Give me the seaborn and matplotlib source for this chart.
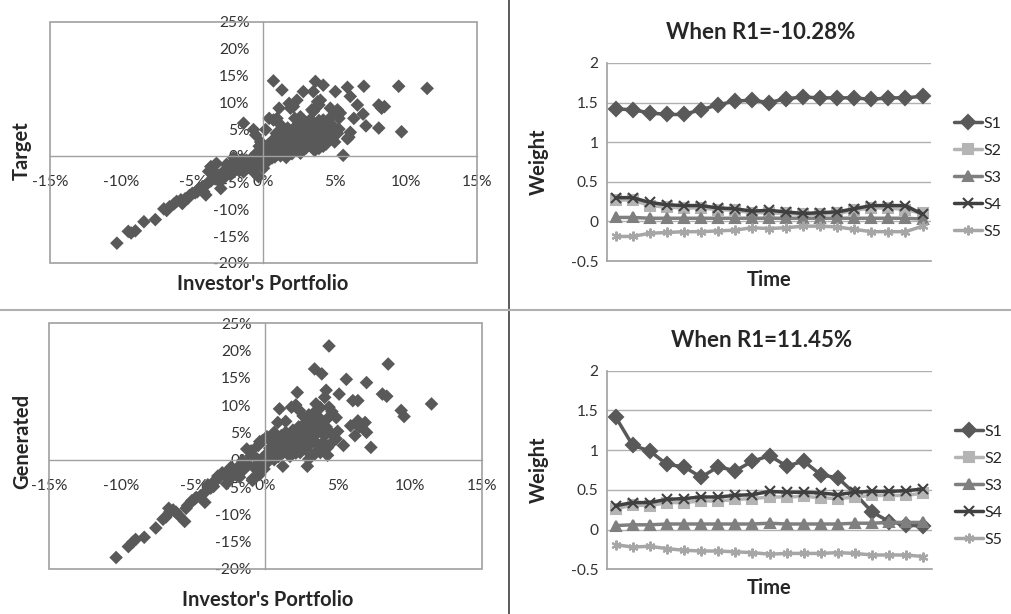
import numpy as np
import pandas as pd
import matplotlib
matplotlib.use("Agg")
import matplotlib.pyplot as plt
import matplotlib.ticker as mticker
from matplotlib.patches import Rectangle
from matplotlib.lines import Line2D
import seaborn as sns

# scatter data, in percent (Investor's Portfolio vs Target / Generated)
target_x = [-10.3, -9.5, -9.3, -9.0, -8.4, -7.6, -7.0, -6.8, -6.6, -6.3, -6.1, -5.8, -5.7, -5.5, -5.3,
            -5.2, -5.0, -4.8, -4.65, -4.5, -4.4, -4.2, -4.05, -4.1, -3.9, -3.85, -3.7, -3.7, -3.5, -3.4,
            -3.4, -3.3, -3.2, -3.1, -3.0, -2.9, -2.7, -2.55, -2.4, -2.3, -2.1, -2.1, -2.0, -1.8, -1.7,
            -1.6, -1.4, -1.3, -1.2, -1.1, -0.9, -0.8, -0.7, -0.6, -0.5, -0.35, -0.3, -0.2, 0.0, -0.1,
            0.1, 0.2, 0.3, 0.4, 0.5, 0.6, 0.7, 0.8, 0.9, 1.0, 1.1, 1.2, 1.3, 1.4, 1.5,
            1.6, 1.7, 1.8, 1.9, 2.0, 2.1, 2.2, 2.3, 2.4, 2.5, 2.6, 2.7, 2.8, 2.9, 3.0,
            3.1, 3.2, 3.3, 3.4, 3.5, 3.6, 3.7, 3.8, 3.9, 4.0, 4.2, 4.3, 4.5, 4.6, 4.8,
            5.0, 5.3, 0.7, 1.3, 2.8, 3.65, 4.2, 5.05, 5.9, 7.05, 9.5, 11.5, 3.5, 2.35, 3.8,
            3.9, 4.7, 5.2, 5.4, 6.1, 6.6, 8.1, 8.5, 8.3, 7.0, 6.35, 7.2, 8.1, 9.7, 6.1,
            5.9, 5.6, 1.1, 1.8, 2.1, 2.6, 3.5, 4.2, 4.9, 5.2, 3.1, 3.8, 3.9, 0.7, 0.15,
            -0.7, -1.4, -0.55, -0.2, 0.95, 0.4, 2.2, 2.5, 1.9, 4.8, 5.3, 4.0, 3.4, 3.3, 4.0,
            4.3, 3.7, 5.0, 6.0, 0.3, 0.6, 1.0, 1.4, 0.5, 1.2, 1.6, 2.0, 2.6, 0.0, -0.5,
            -1.0, -1.5, 0.8, 1.7, 2.3, 2.8, 1.2, 0.9, -0.3, 2.4, 3.4, 3.0, 1.9, 1.5, 2.6,
            4.4, 4.1, 3.6, -2.6, -1.9, -2.8, -2.2, -1.4]
target_y = [-16.3, -14.1, -14.4, -14.0, -12.3, -11.9, -9.9, -10.2, -9.5, -9.0, -8.5, -8.2, -8.9, -8.0, -7.9,
            -7.4, -7.0, -6.9, -6.7, -6.0, -6.1, -6.7, -7.3, -5.6, -5.0, -2.9, -2.0, -4.7, -3.9, -4.3,
            -1.7, -1.4, -3.6, -4.8, -6.1, -3.8, -2.6, -3.3, -2.2, -3.5, -3.0, -0.3, -2.5, -1.6, -2.8,
            -2.1, -1.9, -1.2, -0.8, -2.2, -0.6, -1.5, -3.0, -0.9, -1.9, -3.9, -0.4, -1.2, -2.3, 0.3,
            -0.5, 0.6, -1.0, 1.2, 0.2, -0.4, 1.6, 0.8, 2.2, 0.3, 1.4, 2.8, 0.9, 2.0, 3.5,
            1.2, 2.6, 0.6, 3.2, 1.7, 4.1, 2.4, 1.0, 3.0, 4.6, 1.9, 3.7, 2.6, 5.3, 1.5,
            3.3, 4.4, 2.2, 5.8, 3.0, 1.0, 4.0, 2.6, 6.6, 3.6, 1.8, 5.5, 3.0, 6.2, 4.2,
            2.6, 5.0, 14.0, 12.3, 12.0, 13.9, 13.2, 12.0, 12.8, 13.0, 13.0, 12.6, 12.0, 10.4, 10.1,
            9.5, 8.9, 8.6, 8.0, 11.1, 9.5, 9.5, 9.2, 8.9, 7.8, 7.0, 5.6, 5.2, 4.5, 4.4,
            3.2, 0.1, 8.9, 9.8, 9.2, 7.3, 8.3, 6.7, 5.5, 4.2, 6.1, 3.6, 1.4, 6.7, 4.9,
            4.9, 6.1, 3.9, 2.6, 7.0, 7.0, 7.0, 6.4, 8.9, 7.4, 7.0, 10.4, 8.6, 6.8, 5.2,
            4.5, 3.4, 4.5, 3.5, 2.0, 2.8, 3.8, 4.6, 1.1, 0.0, -0.3, 0.4, 0.5, 0.8, 0.5,
            -1.2, -0.6, -0.2, 5.2, 5.6, 4.2, 5.8, 4.2, 1.8, 2.0, 2.6, 4.0, 1.4, 2.4, 3.2,
            2.2, 4.4, 5.0, -1.6, -0.9, -4.2, -1.3, -3.0]

gen_x = [-10.35, -9.5, -9.2, -9.0, -8.4, -7.6, -7.1, -6.9, -6.65, -6.7, -6.4, -6.2, -6.0, -5.6, -5.5,
         -5.4, -5.2, -5.1, -4.9, -4.8, -4.5, -4.2, -4.1, -4.0, -3.8, -3.6, -3.5, -3.5, -3.3, -3.2,
         -3.0, -2.96, -2.7, -2.7, -2.5, -2.4, -2.2, -2.0, -1.8, -1.8, -1.6, -1.5, -1.3, -1.2, -1.0,
         -1.0, -0.9, -0.9, -0.8, -0.6, -0.5, -0.4, -0.4, -0.3, -0.2, -0.1, 0.0, 0.1, 0.2, 0.3,
         0.4, 0.5, 0.6, 0.7, 0.8, 0.9, 1.0, 1.1, 1.2, 1.2, 1.3, 1.4, 1.5, 1.6, 1.7,
         1.7, 1.8, 1.9, 2.0, 2.1, 2.2, 2.3, 2.4, 2.4, 2.5, 2.6, 2.7, 2.8, 2.9, 2.9,
         3.0, 3.0, 3.1, 3.2, 3.3, 3.4, 3.4, 3.5, 3.6, 3.6, 3.7, 3.8, 3.8, 3.9, 4.0,
         4.1, 4.2, 4.3, 4.4, 4.5, 4.7, 4.4, 8.5, 3.4, 3.9, 5.6, 7.0, 4.2, 4.1, 2.2,
         5.1, 6.05, 6.4, 8.1, 8.4, 11.5, 9.4, 9.6, 0.97, 1.8, 2.1, 3.5, 3.4, 4.4, 4.6,
         4.9, 0.85, 2.9, 5.9, 6.4, 6.9, 6.5, 6.2, 7.0, 7.3, 4.9, 5.4, 0.6, 2.35, 3.0,
         3.8, 4.0, 5.0, 4.3, 2.6, 1.4]
gen_y = [-17.9, -15.9, -15.1, -14.6, -14.2, -12.5, -10.9, -10.5, -9.6, -8.9, -9.2, -9.6, -10.2, -11.3, -8.9,
         -8.4, -7.9, -7.5, -7.2, -6.9, -6.6, -7.8, -5.7, -4.6, -5.2, -4.9, -4.0, -3.8, -3.0, -3.2,
         -2.4, -2.6, -4.4, -2.3, -3.6, -1.4, -2.0, -2.9, -3.2, -1.1, -0.2, -1.8, 1.95, -0.9, 1.6,
         0.7, -3.5, -3.8, -1.4, 0.2, 2.6, -2.7, 3.3, -0.8, 3.5, -1.7, 0.9, 4.2, -0.3, 2.1,
         1.2, 3.0, 0.0, 1.8, 3.6, 0.6, 2.4, 4.4, -1.2, 1.2, 3.0, 5.0, 1.8, 3.8, 0.6,
         3.5, 2.4, 5.4, 3.0, 1.2, 4.2, 6.0, 1.3, 2.6, 4.8, 3.4, 6.6, 1.8, -1.2, 4.0,
         0.1, 5.6, 2.8, 7.2, 3.6, 1.0, 6.4, 4.6, 1.6, 8.0, 2.6, 1.3, 5.4, 7.0, 3.2,
         4.4, 6.0, 2.2, 7.8, 5.0, 3.4, 20.8, 17.5, 16.6, 15.7, 14.7, 14.1, 12.7, 11.4, 12.3,
         12.0, 10.8, 10.8, 12.0, 11.6, 10.2, 9.0, 7.9, 9.3, 9.6, 10.0, 10.2, 8.7, 9.6, 8.8,
         7.7, 6.8, 7.1, 6.2, 7.1, 6.8, 6.0, 4.4, 5.0, 2.25, 3.8, 2.6, 5.0, 9.0, 8.2,
         9.5, 6.8, 5.2, 0.8, 8.0, 7.0]

# weights over time
series_names = ["S1", "S2", "S3", "S4", "S5"]
time_steps = list(range(1, 20))
neg_s1 = [1.42, 1.41, 1.37, 1.35, 1.35, 1.41, 1.47, 1.52, 1.53, 1.50, 1.55, 1.57, 1.56, 1.56, 1.56, 1.54, 1.56, 1.56, 1.58]
neg_s2 = [0.27, 0.27, 0.20, 0.18, 0.17, 0.17, 0.15, 0.14, 0.11, 0.11, 0.10, 0.09, 0.09, 0.10, 0.14, 0.17, 0.17, 0.15, 0.10]
neg_s3 = [0.05, 0.05, 0.04, 0.04, 0.04, 0.04, 0.04, 0.04, 0.04, 0.04, 0.04, 0.04, 0.04, 0.04, 0.04, 0.04, 0.04, 0.04, 0.03]
neg_s4 = [0.30, 0.30, 0.24, 0.21, 0.20, 0.20, 0.17, 0.16, 0.13, 0.14, 0.12, 0.10, 0.11, 0.12, 0.16, 0.20, 0.20, 0.20, 0.09]
neg_s5 = [-0.19, -0.19, -0.15, -0.14, -0.13, -0.13, -0.12, -0.11, -0.08, -0.09, -0.08, -0.06, -0.06, -0.07, -0.10, -0.13, -0.13, -0.13, -0.06]

pos_s1 = [1.42, 1.06, 0.99, 0.82, 0.79, 0.66, 0.79, 0.74, 0.86, 0.93, 0.80, 0.86, 0.69, 0.65, 0.45, 0.22, 0.10, 0.06, 0.04]
pos_s2 = [0.26, 0.31, 0.30, 0.34, 0.34, 0.36, 0.36, 0.38, 0.39, 0.41, 0.41, 0.42, 0.40, 0.39, 0.41, 0.43, 0.43, 0.43, 0.46]
pos_s3 = [0.05, 0.06, 0.06, 0.07, 0.07, 0.07, 0.07, 0.07, 0.07, 0.08, 0.07, 0.07, 0.07, 0.07, 0.08, 0.08, 0.09, 0.09, 0.09]
pos_s4 = [0.30, 0.34, 0.34, 0.38, 0.39, 0.41, 0.41, 0.43, 0.44, 0.48, 0.47, 0.47, 0.46, 0.44, 0.47, 0.48, 0.48, 0.49, 0.51]
pos_s5 = [-0.19, -0.22, -0.21, -0.24, -0.26, -0.27, -0.27, -0.28, -0.29, -0.31, -0.30, -0.30, -0.30, -0.29, -0.30, -0.32, -0.32, -0.32, -0.34]

series_colors = {"S1": "#595959", "S2": "#b4b4b4", "S3": "#7f7f7f", "S4": "#404040", "S5": "#a6a6a6"}
series_markers = {"S1": "D", "S2": "s", "S3": "^", "S4": "x", "S5": (6, 2, 0)}

sns.set_style("white")
plt.rcParams["font.family"] = ["Lato", "DejaVu Sans"]
plt.rcParams["axes.unicode_minus"] = False

fig = plt.figure(figsize=(10.12, 6.14), dpi=100)

pct = mticker.FuncFormatter(lambda v, p: f"{v:.0f}%")
axis_gray = "#a0a0a0"
text_dark = "#262626"


def scatter_panel(rect, xs, ys, ylabel, ylab_pos, xlab_pos):
    ax = fig.add_axes(rect)
    sns.scatterplot(x=xs, y=ys, marker="D", s=48, color="#595959", edgecolor="none", linewidth=0, ax=ax, zorder=1)
    ax.set_xlim(-15, 15)
    ax.set_ylim(-20, 25)
    ax.set_xticks(np.arange(-15, 16, 5))
    ax.set_yticks(np.arange(-20, 26, 5))
    ax.xaxis.set_major_formatter(pct)
    ax.yaxis.set_major_formatter(pct)
    for s in ["top", "right"]:
        ax.spines[s].set_visible(False)
    ax.spines["left"].set_position(("data", 0))
    ax.spines["bottom"].set_position(("data", 0))
    for s in ["left", "bottom"]:
        ax.spines[s].set_color(axis_gray)
        ax.spines[s].set_linewidth(1)
    ax.add_patch(Rectangle((0, 0), 1, 1, transform=ax.transAxes, fill=False,
                           edgecolor=axis_gray, linewidth=1.2, clip_on=False))
    ax.tick_params(axis="y", length=0, pad=10, labelsize=11.2, labelcolor="#333333")
    ax.tick_params(axis="x", length=0, pad=14, labelsize=11.2, labelcolor="#333333")
    ax.set_xlabel("Investor's Portfolio", fontsize=14.5, fontweight="bold", color=text_dark)
    ax.set_ylabel(ylabel, fontsize=14.5, fontweight="bold", color=text_dark)
    ax.xaxis.set_label_coords(*xlab_pos)
    ax.yaxis.set_label_coords(*ylab_pos)
    return ax


def weight_panel(rect, values, title):
    ax = fig.add_axes(rect)
    for name, vals in zip(series_names, values):
        c = series_colors[name]
        sns.lineplot(x=time_steps, y=vals, color=c, marker=series_markers[name], markersize=7,
                     markeredgecolor=c, markerfacecolor=c, markeredgewidth=1.5,
                     linewidth=2.5, label=name, ax=ax)
    ax.set_xlim(0.5, 19.5)
    ax.set_ylim(-0.5, 2)
    ax.set_yticks(np.arange(-0.5, 2.01, 0.5))
    ax.yaxis.set_major_formatter(mticker.FuncFormatter(lambda v, p: f"{v:g}"))
    ax.set_xticks([])
    ax.yaxis.grid(True, color="#b0b0b0", linewidth=1)
    ax.set_axisbelow(True)
    for s in ["top", "right"]:
        ax.spines[s].set_visible(False)
    for s in ["left", "bottom"]:
        ax.spines[s].set_color(axis_gray)
        ax.spines[s].set_linewidth(1.2)
    ax.tick_params(axis="y", length=0, pad=6, labelsize=11.2, labelcolor="#333333")
    ax.set_title(title, fontsize=16, fontweight="bold", pad=17, x=0.475, color=text_dark)
    ax.set_xlabel("Time", fontsize=14.5, fontweight="bold", color=text_dark)
    ax.set_ylabel("Weight", fontsize=14.5, fontweight="bold", color=text_dark)
    ax.xaxis.set_label_coords(0.5, -0.045)
    ax.yaxis.set_label_coords(-0.179, 0.5)
    ax.legend(loc="center left", bbox_to_anchor=(1.05, 0.42), frameon=False, fontsize=11.5,
              handlelength=1.8, handletextpad=0.05, labelspacing=0.8, borderaxespad=0)
    return ax


scatter_panel([0.0494, 0.5717, 0.4219, 0.3925], target_x, target_y, "Target", (-0.042, 0.465), (0.499, -0.046))
scatter_panel([0.0484, 0.0733, 0.4279, 0.4006], gen_x, gen_y, "Generated", (-0.039, 0.517), (0.506, -0.085))

weight_panel([0.5998, 0.5749, 0.3202, 0.3225], [neg_s1, neg_s2, neg_s3, neg_s4, neg_s5], "When R1=-10.28%")
weight_panel([0.5998, 0.0728, 0.3212, 0.3235], [pos_s1, pos_s2, pos_s3, pos_s4, pos_s5], "When R1=11.45%")

# panel dividers
fig.add_artist(Line2D([509 / 1012, 509 / 1012], [0, 1], color="#404040", linewidth=1.2))
fig.add_artist(Line2D([0, 1], [1 - 310 / 614, 1 - 310 / 614], color="#b0b0b0", linewidth=1.5))

fig.savefig("out.png", dpi=100)
